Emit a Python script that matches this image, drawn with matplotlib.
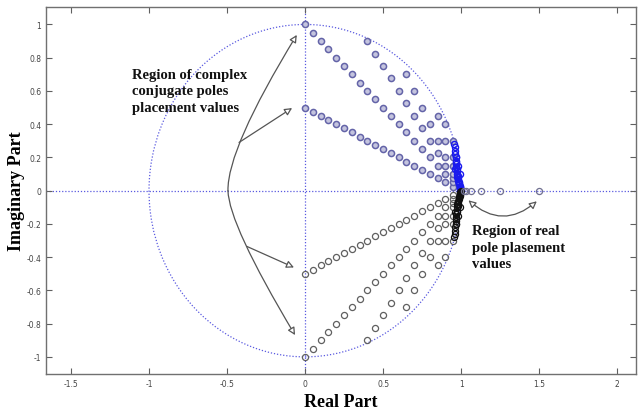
import numpy as np
import matplotlib
matplotlib.use("Agg")
import matplotlib.pyplot as plt
from matplotlib.patches import Circle, FancyArrowPatch
from matplotlib.path import Path

# ---- data: upper-half complex poles (lower half are their conjugates) ----
ray1_re = [0.0, 0.05, 0.1, 0.15, 0.2, 0.25, 0.3, 0.35, 0.4, 0.45, 0.5, 0.55, 0.6, 0.65, 0.7, 0.75, 0.8, 0.85, 0.9, 0.95]
ray1_im = [0.5, 0.475, 0.45, 0.425, 0.4, 0.375, 0.35, 0.325, 0.3, 0.275, 0.25, 0.225, 0.2, 0.175, 0.15, 0.125, 0.1, 0.075, 0.05, 0.025]
ray2_re = [0.0, 0.05, 0.1, 0.15, 0.2, 0.25, 0.3, 0.35, 0.4, 0.45, 0.5, 0.55, 0.6, 0.65, 0.7, 0.75, 0.8, 0.85, 0.9, 0.95]
ray2_im = [1.0, 0.95, 0.9, 0.85, 0.8, 0.75, 0.7, 0.65, 0.6, 0.55, 0.5, 0.45, 0.4, 0.35, 0.3, 0.25, 0.2, 0.15, 0.1, 0.05]
ray3_re = [0.4, 0.45, 0.5, 0.55, 0.6, 0.65, 0.7, 0.75, 0.8, 0.85, 0.9, 0.95]
ray3_im = [0.9, 0.825, 0.75, 0.675, 0.6, 0.525, 0.45, 0.375, 0.3, 0.225, 0.15, 0.075]
ray4_re = [0.65, 0.7, 0.75, 0.8, 0.85, 0.9, 0.95]
ray4_im = [0.7, 0.6, 0.5, 0.4, 0.3, 0.2, 0.1]
ray5_re = [0.85, 0.9, 0.95, 0.9, 0.95, 0.95]
ray5_im = [0.45, 0.3, 0.15, 0.4, 0.2, 0.3]
dense_re = [0.955, 0.96, 0.96, 0.962, 0.965, 0.965, 0.968, 0.97, 0.97, 0.972, 0.975, 0.975,
            0.978, 0.98, 0.98, 0.982, 0.985, 0.985, 0.988, 0.99, 0.99, 0.992, 0.995, 0.995,
            0.998, 0.97, 0.98, 0.99, 0.96, 0.975]
dense_im = [0.28, 0.26, 0.24, 0.22, 0.2, 0.18, 0.17, 0.16, 0.14, 0.13, 0.12, 0.1,
            0.09, 0.08, 0.07, 0.06, 0.05, 0.045, 0.04, 0.03, 0.025, 0.02, 0.015, 0.01,
            0.005, 0.2, 0.15, 0.1, 0.13, 0.08]
real_poles = [1.5, 1.25, 1.125, 1.0625, 1.03125, 1.015625]

x_ticks = [-1.5, -1, -0.5, 0, 0.5, 1, 1.5, 2]
x_ticklabels = ["-1.5", "-1", "-0.5", "0", "0.5", "1", "1.5", "2"]
y_ticks = [-1, -0.8, -0.6, -0.4, -0.2, 0, 0.2, 0.4, 0.6, 0.8, 1]
y_ticklabels = ["-1", "-0.8", "-0.6", "-0.4", "-0.2", "0", "0.2", "0.4", "0.6", "0.8", "1"]

upper_re = ray1_re + ray2_re + ray3_re + ray4_re + ray5_re
upper_im = ray1_im + ray2_im + ray3_im + ray4_im + ray5_im

fig = plt.figure(figsize=(6.41, 4.10), dpi=100)
ax = fig.add_axes([0.0718, 0.0854, 0.9202, 0.8951])
ax.set_xlim(-1.66, 2.12)
ax.set_ylim(-1.103, 1.105)

line_blue = "#5a5ae0"
ax.add_patch(Circle((0, 0), 1, fill=False, ls=(0, (1, 1.5)), ec=line_blue, lw=0.9, zorder=1))
ax.axhline(0, ls=(0, (1, 1.5)), color=line_blue, lw=0.9, zorder=1)
ax.axvline(0, ls=(0, (1, 1.5)), color=line_blue, lw=0.9, zorder=1)

ms = 4.4
# upper half (blue)
ax.plot(upper_re, upper_im, 'o', ms=ms, mfc="#c4c4de", mec="#6464a8", mew=1.1, ls='none', zorder=3)
ax.plot(dense_re, dense_im, 'o', ms=ms, mfc="none", mec="#1a1aee", mew=1.0, ls='none', zorder=3)
# lower half (black)
ax.plot(upper_re, [-v for v in upper_im], 'o', ms=ms, mfc="none", mec="#606060", mew=0.9, ls='none', zorder=3)
ax.plot(dense_re, [-v for v in dense_im], 'o', ms=ms, mfc="none", mec="#101010", mew=0.9, ls='none', zorder=3)
# real poles
ax.plot(real_poles, [0] * len(real_poles), 'o', ms=ms, mfc="none", mec="#707090", mew=0.9, ls='none', zorder=3)

# ticks
ax.set_xticks(x_ticks)
ax.set_xticklabels(x_ticklabels)
ax.set_yticks(y_ticks)
ax.set_yticklabels(y_ticklabels)
ax.tick_params(direction='in', length=4, width=0.8, colors="#606060", labelsize=5.5,
               top=True, right=True, labelcolor="#444444")
for s in ax.spines.values():
    s.set_color("#707070")
    s.set_linewidth(1.0)

serif = ["Liberation Serif", "DejaVu Serif"]
ax.set_xlabel("Real Part", fontsize=13, fontweight='bold', family=serif, labelpad=4)
ax.set_ylabel("Imaginary Part", fontsize=13, fontweight='bold', family=serif, labelpad=1)

ax.text(-1.11, 0.74, "Region of complex\nconjugate poles\nplacement values", fontsize=10.5,
        fontweight='bold', family=serif, va='top', ha='left', linespacing=1.38, color="#111111")
ax.text(1.07, -0.2, "Region of real\npole plasement\nvalues", fontsize=10.5,
        fontweight='bold', family=serif, va='top', ha='left', linespacing=1.38, color="#111111")

acol = "#555555"
def arrow_path(pts, codes, style):
    p = FancyArrowPatch(path=Path(pts, codes), arrowstyle=style, mutation_scale=11,
                        fc="white", ec=acol, lw=0.9, zorder=4)
    ax.add_patch(p)

Q = [Path.MOVETO, Path.CURVE3, Path.CURVE3]
arrow_path([(-0.494, 0.0), (-0.50, 0.25), (-0.053, 0.937)], Q, '-|>')
arrow_path([(-0.494, 0.0), (-0.49, -0.20), (-0.064, -0.869)], Q, '-|>')
arrow_path([(-0.423, 0.29), (-0.083, 0.497)], [Path.MOVETO, Path.LINETO], '-|>')
arrow_path([(-0.374, -0.335), (-0.071, -0.462)], [Path.MOVETO, Path.LINETO], '-|>')
arrow_path([(1.047, -0.058), (1.266, -0.24), (1.485, -0.064)], Q, '<|-|>')

fig.savefig("out.png", dpi=100)
